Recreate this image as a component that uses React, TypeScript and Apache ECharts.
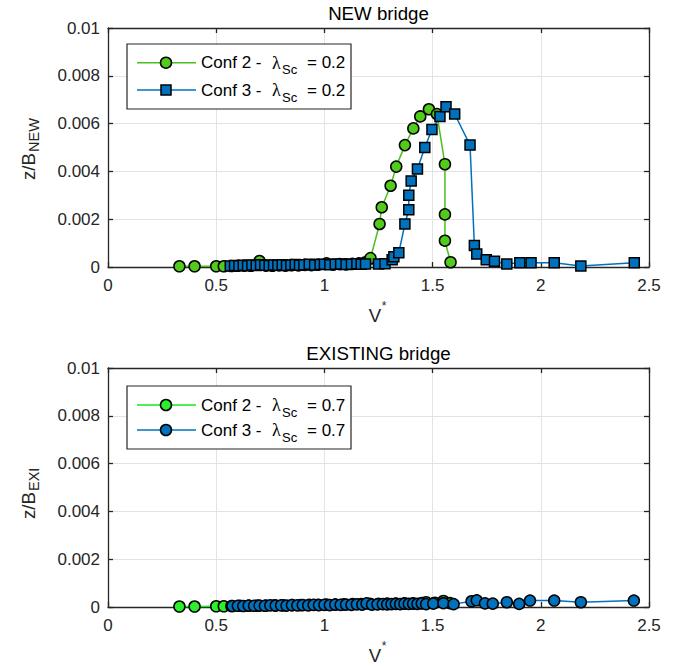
import React, { useEffect, useRef } from "react";
import * as echarts from "echarts";

// ---- Data ----
const xTicks = [0, 0.5, 1, 1.5, 2, 2.5];
const yTicks = [0, 0.002, 0.004, 0.006, 0.008, 0.01];

// NEW bridge, Conf 2 (lambda_Sc = 0.2)
const newConf2X = [0.33, 0.40, 0.50, 0.535, 0.57, 0.60, 0.63, 0.66, 0.70, 0.73, 0.76, 0.79, 0.82, 0.85, 0.88, 0.91, 0.94, 0.97, 1.01, 1.04, 1.07, 1.10, 1.13, 1.16, 1.19, 1.213, 1.255, 1.265, 1.306, 1.332, 1.372, 1.411, 1.443, 1.483, 1.52, 1.557, 1.557, 1.557, 1.583];
const newConf2Y = [0.00003, 0.00003, 0.00003, 0.00003, 0.00004, 0.00005, 0.00006, 0.00005, 0.00025, 0.00006, 0.00005, 0.00007, 0.00006, 0.00008, 0.00007, 0.00009, 0.00008, 0.0001, 0.00015, 0.0001, 0.00012, 0.00011, 0.00013, 0.00015, 0.0002, 0.00037, 0.0018, 0.0025, 0.0034, 0.0042, 0.0051, 0.0058, 0.0063, 0.0066, 0.0064, 0.0043, 0.0022, 0.0011, 0.0002];

// NEW bridge, Conf 3 (lambda_Sc = 0.2)
const newConf3X = [0.565, 0.585, 0.605, 0.625, 0.645, 0.665, 0.685, 0.705, 0.725, 0.745, 0.765, 0.785, 0.805, 0.825, 0.845, 0.865, 0.885, 0.905, 0.93, 0.955, 0.98, 1.00, 1.025, 1.05, 1.075, 1.10, 1.125, 1.15, 1.17, 1.19, 1.25, 1.28, 1.313, 1.321, 1.344, 1.372, 1.39, 1.39, 1.401, 1.43, 1.464, 1.497, 1.534, 1.562, 1.602, 1.673, 1.693, 1.704, 1.748, 1.786, 1.843, 1.903, 1.955, 2.062, 2.185, 2.432];
const newConf3Y = [0.00004, 0.00006, 0.00005, 0.00007, 0.00005, 0.00008, 0.00006, 0.00009, 0.00007, 0.00006, 0.00008, 0.00007, 0.00009, 0.00006, 0.00008, 0.0001, 0.00007, 0.00009, 0.00011, 0.00008, 0.0001, 0.00012, 0.00009, 0.00011, 0.00013, 0.0001, 0.00012, 0.00014, 0.00011, 0.00013, 0.00013, 0.00014, 0.0003, 0.00043, 0.0006, 0.0018, 0.0024, 0.003, 0.0036, 0.0041, 0.005, 0.00575, 0.0063, 0.0067, 0.0064, 0.0051, 0.0009, 0.00054, 0.0003, 0.00024, 0.00013, 0.00018, 0.00018, 0.00018, 0.00004, 0.00018];

// EXISTING bridge, Conf 2 (lambda_Sc = 0.7)
const exiConf2X = [0.33, 0.40, 0.50, 0.535, 0.57, 0.61, 0.65, 0.69, 0.73, 0.77, 0.81, 0.85, 0.89, 0.93, 0.97, 1.01, 1.05, 1.09, 1.13, 1.17, 1.21, 1.25, 1.29, 1.33, 1.37, 1.41, 1.45, 1.47, 1.51, 1.55, 1.58];
const exiConf2Y = [0.00002, 0.00002, 0.00003, 0.00003, 0.00004, 0.00005, 0.00005, 0.00006, 0.00006, 0.00007, 0.00007, 0.00008, 0.00008, 0.00009, 0.00009, 0.0001, 0.0001, 0.00011, 0.00012, 0.00012, 0.00013, 0.00013, 0.00014, 0.00014, 0.00015, 0.00015, 0.00016, 0.0002, 0.00018, 0.00025, 0.00016];

// EXISTING bridge, Conf 3 (lambda_Sc = 0.7)
const exiConf3X = [0.575, 0.60, 0.625, 0.65, 0.675, 0.70, 0.725, 0.75, 0.775, 0.80, 0.825, 0.85, 0.875, 0.90, 0.925, 0.95, 0.975, 1.00, 1.025, 1.05, 1.075, 1.10, 1.125, 1.15, 1.175, 1.195, 1.22, 1.245, 1.27, 1.29, 1.31, 1.33, 1.35, 1.37, 1.39, 1.41, 1.43, 1.45, 1.47, 1.503, 1.55, 1.597, 1.68, 1.704, 1.742, 1.778, 1.843, 1.90, 1.95, 2.062, 2.185, 2.43];
const exiConf3Y = [0.00004, 0.00005, 0.00004, 0.00006, 0.00005, 0.00006, 0.00005, 0.00007, 0.00006, 0.00007, 0.00006, 0.00008, 0.00007, 0.00008, 0.00007, 0.00009, 0.00008, 0.00009, 0.00008, 0.0001, 0.00009, 0.0001, 0.00009, 0.00011, 0.0001, 0.00015, 0.0001, 0.00011, 0.00012, 0.00011, 0.00012, 0.00013, 0.00012, 0.00014, 0.00013, 0.00014, 0.00013, 0.00015, 0.00012, 0.00014, 0.00016, 0.00012, 0.00024, 0.00028, 0.00015, 0.00014, 0.0002, 0.00013, 0.00027, 0.00027, 0.0002, 0.00027];

const pairs = (xs: number[], ys: number[]) => xs.map((x, i) => [x, ys[i]]);

const FONT = "'Liberation Sans', Arial, Helvetica, sans-serif";
const AX = "#262626";
const GREEN_NEW = "#4dbf1a";
const GREEN_NEW_FILL = "#52cc1c";
const GREEN_EXI = "#1ae61a";
const GREEN_EXI_FILL = "#2cf02c";
const BLUE = "#0072bd";

const PLOT_L = 108;
const PLOT_R = 649;
const TOP1 = 28;
const BOT1 = 267;
const TOP2 = 368;
const BOT2 = 607;

function xAxisPair(grid: number) {
  const base = {
    type: "value",
    gridIndex: grid,
    min: xTicks[0],
    max: xTicks[xTicks.length - 1],
    interval: xTicks[1] - xTicks[0],
    axisLine: { show: true, onZero: false, lineStyle: { color: AX, width: 1.3 } },
    axisTick: { show: true, inside: true, length: 5, lineStyle: { color: AX, width: 1.3 } },
  };
  return [
    {
      ...base,
      position: "bottom",
      axisLabel: { show: true, fontSize: 17, fontFamily: FONT, color: AX, margin: 10 },
      splitLine: { show: true, lineStyle: { color: "#e3e3e3", width: 1 } },
    },
    {
      ...base,
      position: "top",
      axisLabel: { show: false },
      splitLine: { show: false },
    },
  ];
}

function yAxisPair(grid: number) {
  const base = {
    type: "value",
    gridIndex: grid,
    min: yTicks[0],
    max: yTicks[yTicks.length - 1],
    interval: yTicks[1] - yTicks[0],
    axisLine: { show: true, onZero: false, lineStyle: { color: AX, width: 1.3 } },
    axisTick: { show: true, inside: true, length: 5, lineStyle: { color: AX, width: 1.3 } },
  };
  return [
    {
      ...base,
      position: "left",
      axisLabel: {
        show: true,
        fontSize: 17,
        fontFamily: FONT,
        color: AX,
        margin: 8,
        formatter: (v: number) => String(Number(v.toFixed(4))),
      },
      splitLine: { show: true, lineStyle: { color: "#e3e3e3", width: 1 } },
    },
    {
      ...base,
      position: "right",
      axisLabel: { show: false },
      splitLine: { show: false },
    },
  ];
}

function txt(x: number, y: number, text: string, opts: any = {}) {
  return {
    type: "text",
    x,
    y,
    z: 100,
    style: {
      text,
      fontSize: opts.fontSize ?? 17,
      fontFamily: opts.fontFamily ?? FONT,
      fill: opts.fill ?? "#000",
      align: opts.align ?? "left",
      verticalAlign: "middle",
    },
  };
}

function legendBlock(top: number, h: number, rows: number[], items: any[]) {
  const els: any[] = [
    {
      type: "rect",
      z: 90,
      shape: { x: 127, y: top, width: 224, height: h },
      style: { fill: "#fff", stroke: AX, lineWidth: 1.2 },
    },
  ];
  items.forEach((it, i) => {
    const y = rows[i];
    els.push({
      type: "line",
      z: 95,
      shape: { x1: 137, y1: y, x2: 196, y2: y },
      style: { stroke: it.color, lineWidth: 1.5 },
    });
    if (it.symbol === "rect") {
      els.push({
        type: "rect",
        z: 96,
        shape: { x: 161, y: y - 5, width: 10, height: 10 },
        style: { fill: it.fill, stroke: "#000", lineWidth: 1.5 },
      });
    } else {
      els.push({
        type: "circle",
        z: 96,
        shape: { cx: 166, cy: y, r: 5.5 },
        style: { fill: it.fill, stroke: "#000", lineWidth: 1.5 },
      });
    }
    els.push(txt(201, y, "Conf " + it.conf + " -"));
    els.push(txt(272, y, "λ", { fontFamily: "'Liberation Serif', 'DejaVu Serif', serif", fontSize: 18 }));
    els.push(txt(282, y + 7, "Sc", { fontSize: 13 }));
    els.push(txt(307, y, "= " + it.val));
  });
  return els;
}

function yName(cy: number, main: string, sub: string) {
  return {
    type: "group",
    x: 28,
    y: cy,
    rotation: Math.PI / 2,
    z: 100,
    children: [
      {
        type: "text",
        x: -31,
        y: 0,
        style: { text: main, fontSize: 18.7, fontFamily: FONT, fill: AX, align: "left", verticalAlign: "middle" },
      },
      {
        type: "text",
        x: -3,
        y: 6,
        style: { text: sub, fontSize: 14.5, fontFamily: FONT, fill: AX, align: "left", verticalAlign: "middle" },
      },
    ],
  };
}

function xName(cy: number) {
  return [
    txt(375, cy, "V", { fontSize: 18.7, fill: AX, align: "center" }),
    txt(384, cy - 9, "*", { fontSize: 12, fill: AX, align: "center" }),
  ];
}

export default function App() {
  const ref = useRef<HTMLDivElement>(null);
  useEffect(() => {
    if (!ref.current) return;
    const chart = echarts.init(ref.current, undefined, { renderer: "svg" });
    const xs = [...xAxisPair(0), ...xAxisPair(1)];
    const ys = [...yAxisPair(0), ...yAxisPair(1)];
    const series: any[] = [
      {
        name: "NEW Conf 2",
        type: "line",
        xAxisIndex: 0,
        yAxisIndex: 0,
        data: pairs(newConf2X, newConf2Y),
        symbol: "circle",
        symbolSize: 11,
        lineStyle: { color: GREEN_NEW, width: 1.5 },
        itemStyle: { color: GREEN_NEW_FILL, borderColor: "#000", borderWidth: 1.5 },
      },
      {
        name: "NEW Conf 3",
        type: "line",
        xAxisIndex: 0,
        yAxisIndex: 0,
        data: pairs(newConf3X, newConf3Y),
        symbol: "rect",
        symbolSize: 10,
        lineStyle: { color: BLUE, width: 1.5 },
        itemStyle: { color: BLUE, borderColor: "#000", borderWidth: 1.5 },
      },
      {
        name: "EXI Conf 2",
        type: "line",
        xAxisIndex: 2,
        yAxisIndex: 2,
        data: pairs(exiConf2X, exiConf2Y),
        symbol: "circle",
        symbolSize: 11,
        lineStyle: { color: GREEN_EXI, width: 1.5 },
        itemStyle: { color: GREEN_EXI_FILL, borderColor: "#000", borderWidth: 1.5 },
      },
      {
        name: "EXI Conf 3",
        type: "line",
        xAxisIndex: 2,
        yAxisIndex: 2,
        data: pairs(exiConf3X, exiConf3Y),
        symbol: "circle",
        symbolSize: 11,
        lineStyle: { color: BLUE, width: 1.5 },
        itemStyle: { color: BLUE, borderColor: "#000", borderWidth: 1.5 },
      },
    ].map((s) => ({ ...s, showAllSymbol: true, clip: false, emphasis: { disabled: true } }));

    const graphic: any[] = [
      txt((PLOT_L + PLOT_R) / 2, 13, "NEW bridge", { fontSize: 18.7, fill: "#000", align: "center" }),
      txt((PLOT_L + PLOT_R) / 2, 353, "EXISTING bridge", { fontSize: 18.7, fill: "#000", align: "center" }),
      yName(149, "z/B", "NEW"),
      yName(488, "z/B", "EXI"),
      ...xName(315),
      ...xName(655),
      ...legendBlock(44, 65, [62.7, 90], [
        { conf: 2, val: "0.2", color: GREEN_NEW, fill: GREEN_NEW_FILL, symbol: "circle" },
        { conf: 3, val: "0.2", color: BLUE, fill: BLUE, symbol: "rect" },
      ]),
      ...legendBlock(386, 63, [405, 430], [
        { conf: 2, val: "0.7", color: GREEN_EXI, fill: GREEN_EXI_FILL, symbol: "circle" },
        { conf: 3, val: "0.7", color: BLUE, fill: BLUE, symbol: "circle" },
      ]),
    ];

    chart.setOption({
      animation: false,
      backgroundColor: "#fff",
      grid: [
        { left: PLOT_L, width: PLOT_R - PLOT_L, top: TOP1, height: BOT1 - TOP1 },
        { left: PLOT_L, width: PLOT_R - PLOT_L, top: TOP2, height: BOT2 - TOP2 },
      ],
      xAxis: xs,
      yAxis: ys,
      series,
      graphic,
    });
    return () => chart.dispose();
  }, []);
  return (
    <div
      ref={ref}
      style={{ position: "fixed", left: 0, top: 0, width: 684, height: 666, background: "#fff" }}
    />
  );
}
